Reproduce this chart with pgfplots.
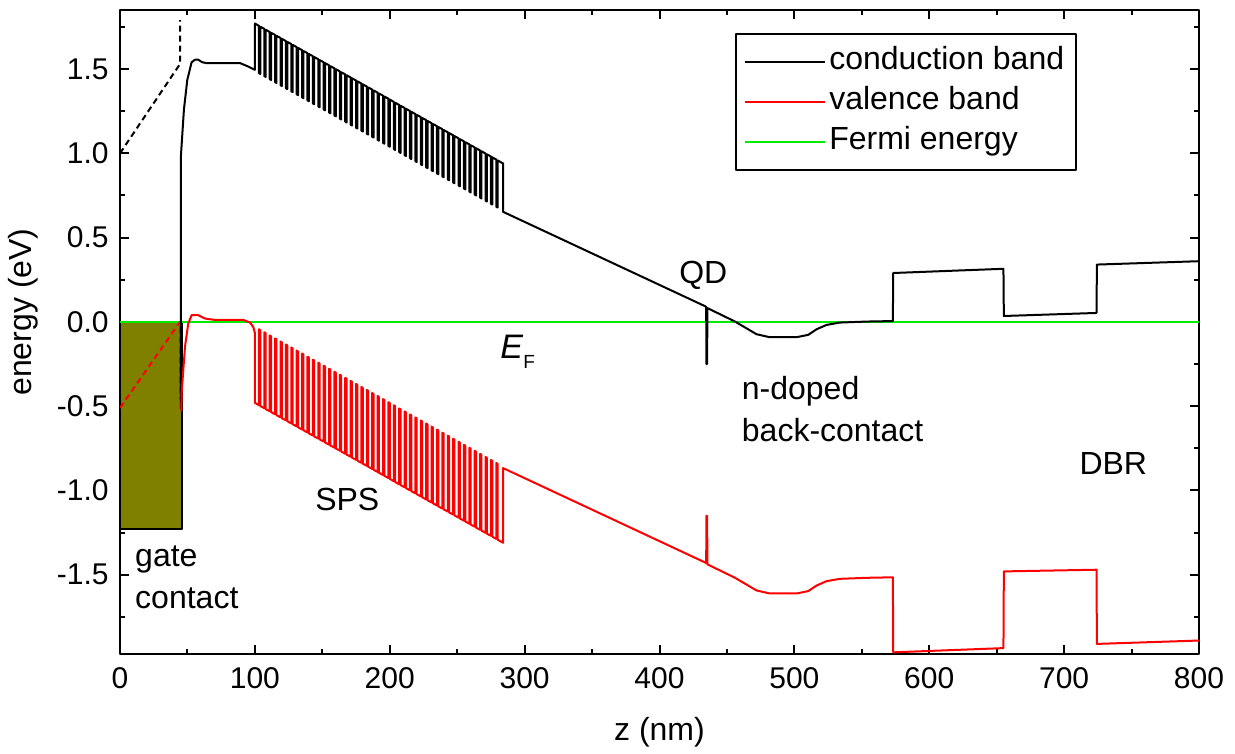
\documentclass[border=0pt]{standalone}
\usepackage{fontspec}
\setmainfont{Liberation Sans}
\usepackage{pgfplots}
\pgfplotsset{compat=1.18}
\definecolor{olivefill}{RGB}{128,128,0}
\definecolor{fermigreen}{RGB}{0,235,0}
\newcommand{\tickfont}{\fontsize{15}{17}\selectfont}
\newcommand{\labfont}{\fontsize{16}{18}\selectfont}
\begin{document}
\begin{tikzpicture}
\begin{axis}[
  scale only axis, width=539.5pt, height=322pt,
  xmin=0, xmax=800, ymin=-1.97, ymax=1.85,
  xtick={0,100,200,300,400,500,600,700,800},
  minor xtick={50,150,250,350,450,550,650,750},
  ytick={-1.5,-1.0,-0.5,0,0.5,1.0,1.5},
  minor ytick={-1.75,-1.25,-0.75,-0.25,0.25,0.75,1.25,1.75},
  tick align=inside, major tick length=4.5pt, minor tick length=2.5pt,
  every tick/.style={line width=1pt, black},
  axis line style={line width=1pt},
  /pgf/number format/assume math mode=true,
  yticklabel style={/pgf/number format/fixed, /pgf/number format/fixed zerofill, /pgf/number format/precision=1, font=\tickfont, anchor=east, inner sep=0pt, xshift=-5.5pt},
  xticklabel style={font=\tickfont, anchor=base, inner sep=0pt, yshift=-17pt},
  xlabel={z (nm)}, ylabel={energy (eV)},
  xlabel style={font=\labfont, at={(axis description cs:0.5,0)}, anchor=base, yshift=-43pt},
  ylabel style={font=\labfont, at={(axis description cs:-0.0895,0.531)}, anchor=center},
  legend style={at={(rel axis cs:0.57,0.964)}, anchor=north west, draw=black, line width=0.75pt, font=\labfont, inner xsep=4pt, inner ysep=4pt, row sep=0pt, nodes={text height=12pt, text depth=4pt, inner sep=2pt, anchor=west}},
  legend cell align=left,
  legend image code/.code={\draw[#1, line width=0.6pt] (0pt,0pt) -- (36.5pt,0pt); \path (0pt,0pt) -- (40pt,0pt);},
  line join=round,
]
\addlegendimage{black}
\addlegendentry{conduction band}
\addlegendimage{red}
\addlegendentry{valence band}
\addlegendimage{fermigreen}
\addlegendentry{Fermi energy}

% gate contact
\addplot[draw=black, line width=1pt, fill=olivefill, forget plot] coordinates {(0,0) (45.8,0) (45.8,-1.228) (0,-1.228) (0,0)};

% Fermi energy
\addplot[fermigreen, line width=1pt, forget plot] coordinates {(0,0) (800,0)};

% dashed extrapolations
\addplot[black, line width=1pt, dash pattern=on 3pt off 2pt, forget plot] coordinates {(0,1.0) (44.5,1.53) (44.5,1.79)};
\addplot[red, line width=1pt, dash pattern=on 3pt off 2pt, forget plot] coordinates {(0,-0.51) (44.5,0.0) (44.5,-0.46)};

% conduction band
\addplot[black, line width=1pt, forget plot] coordinates {
(45.2,-0.52) (45.2,0.99) (47.4,1.26) (49.9,1.436) (53.1,1.54) (55.6,1.555) (58,1.555) (61,1.54) (64.2,1.535) (89,1.535) (95,1.515) (100,1.495) (100,1.77)
(103,1.756) (103,1.476) (104,1.471) (104,1.751)
(107,1.738) (107,1.458) (108,1.453) (108,1.733)
(111,1.720) (111,1.440) (112,1.435) (112,1.715)
(115,1.702) (115,1.422) (116,1.417) (116,1.697)
(119,1.684) (119,1.404) (120,1.399) (120,1.679)
(123,1.666) (123,1.386) (124,1.381) (124,1.661)
(127,1.648) (127,1.368) (128,1.363) (128,1.643)
(131,1.630) (131,1.350) (132,1.345) (132,1.625)
(135,1.612) (135,1.332) (136,1.327) (136,1.607)
(139,1.594) (139,1.314) (140,1.309) (140,1.589)
(143,1.576) (143,1.296) (144,1.291) (144,1.571)
(147,1.558) (147,1.278) (148,1.273) (148,1.553)
(151,1.540) (151,1.260) (152,1.255) (152,1.535)
(155,1.522) (155,1.242) (156,1.237) (156,1.517)
(159,1.504) (159,1.224) (160,1.219) (160,1.499)
(163,1.486) (163,1.206) (164,1.201) (164,1.481)
(167,1.468) (167,1.188) (168,1.183) (168,1.463)
(171,1.450) (171,1.170) (172,1.165) (172,1.445)
(175,1.432) (175,1.152) (176,1.147) (176,1.427)
(179,1.414) (179,1.134) (180,1.129) (180,1.409)
(183,1.396) (183,1.116) (184,1.111) (184,1.391)
(187,1.378) (187,1.098) (188,1.093) (188,1.373)
(191,1.360) (191,1.080) (192,1.075) (192,1.355)
(195,1.342) (195,1.062) (196,1.057) (196,1.337)
(199,1.324) (199,1.044) (200,1.039) (200,1.319)
(203,1.305) (203,1.025) (204,1.020) (204,1.300)
(207,1.287) (207,1.007) (208,1.002) (208,1.282)
(211,1.269) (211,0.989) (212,0.984) (212,1.264)
(215,1.251) (215,0.971) (216,0.966) (216,1.246)
(219,1.233) (219,0.953) (220,0.948) (220,1.228)
(223,1.215) (223,0.935) (224,0.930) (224,1.210)
(227,1.197) (227,0.917) (228,0.912) (228,1.192)
(231,1.179) (231,0.899) (232,0.894) (232,1.174)
(235,1.161) (235,0.881) (236,0.876) (236,1.156)
(239,1.143) (239,0.863) (240,0.858) (240,1.138)
(243,1.125) (243,0.845) (244,0.840) (244,1.120)
(247,1.107) (247,0.827) (248,0.822) (248,1.102)
(251,1.089) (251,0.809) (252,0.804) (252,1.084)
(255,1.071) (255,0.791) (256,0.786) (256,1.066)
(259,1.053) (259,0.773) (260,0.768) (260,1.048)
(263,1.035) (263,0.755) (264,0.750) (264,1.030)
(267,1.017) (267,0.737) (268,0.732) (268,1.012)
(271,0.999) (271,0.719) (272,0.714) (272,0.994)
(275,0.981) (275,0.701) (276,0.696) (276,0.976)
(279,0.963) (279,0.683) (280,0.678) (280,0.958)
(284,0.940) (284,0.653)
(434.6,0.090) (434.8,-0.25) (435.3,-0.25) (435.5,0.082)
(456,0.002) (464.5,-0.038) (471.9,-0.073) (481.8,-0.091) (501.5,-0.091) (510.2,-0.077) (516.4,-0.044) (523.8,-0.018) (533.7,-0.004) (553.5,0.002) (573,0.005)
(573.3,0.29) (655,0.315) (655.3,0.035) (724,0.053) (724.3,0.34) (800,0.36)
};

% valence band
\addplot[red, line width=1pt, forget plot] coordinates {
(45.5,-0.53) (45.7,-0.42) (48.2,-0.146) (50.6,-0.01) (53.1,0.04) (58,0.04) (63,0.02) (70,0.012) (91.4,0.012) (96.4,-0.004) (98.8,-0.03) (100,-0.065) (100,-0.48)
(103,-0.494) (103,-0.044) (104,-0.049) (104,-0.499)
(107,-0.512) (107,-0.062) (108,-0.067) (108,-0.517)
(111,-0.530) (111,-0.080) (112,-0.085) (112,-0.535)
(115,-0.548) (115,-0.098) (116,-0.103) (116,-0.553)
(119,-0.566) (119,-0.116) (120,-0.121) (120,-0.571)
(123,-0.584) (123,-0.134) (124,-0.139) (124,-0.589)
(127,-0.602) (127,-0.152) (128,-0.157) (128,-0.607)
(131,-0.620) (131,-0.170) (132,-0.175) (132,-0.625)
(135,-0.638) (135,-0.188) (136,-0.193) (136,-0.643)
(139,-0.656) (139,-0.206) (140,-0.211) (140,-0.661)
(143,-0.674) (143,-0.224) (144,-0.229) (144,-0.679)
(147,-0.692) (147,-0.242) (148,-0.247) (148,-0.697)
(151,-0.710) (151,-0.260) (152,-0.265) (152,-0.715)
(155,-0.728) (155,-0.278) (156,-0.283) (156,-0.733)
(159,-0.746) (159,-0.296) (160,-0.301) (160,-0.751)
(163,-0.764) (163,-0.314) (164,-0.319) (164,-0.769)
(167,-0.782) (167,-0.332) (168,-0.337) (168,-0.787)
(171,-0.800) (171,-0.350) (172,-0.355) (172,-0.805)
(175,-0.818) (175,-0.368) (176,-0.373) (176,-0.823)
(179,-0.836) (179,-0.386) (180,-0.391) (180,-0.841)
(183,-0.854) (183,-0.404) (184,-0.409) (184,-0.859)
(187,-0.872) (187,-0.422) (188,-0.427) (188,-0.877)
(191,-0.890) (191,-0.440) (192,-0.445) (192,-0.895)
(195,-0.908) (195,-0.458) (196,-0.463) (196,-0.913)
(199,-0.926) (199,-0.476) (200,-0.481) (200,-0.931)
(203,-0.945) (203,-0.495) (204,-0.500) (204,-0.950)
(207,-0.963) (207,-0.513) (208,-0.518) (208,-0.968)
(211,-0.981) (211,-0.531) (212,-0.536) (212,-0.986)
(215,-0.999) (215,-0.549) (216,-0.554) (216,-1.004)
(219,-1.017) (219,-0.567) (220,-0.572) (220,-1.022)
(223,-1.035) (223,-0.585) (224,-0.590) (224,-1.040)
(227,-1.053) (227,-0.603) (228,-0.608) (228,-1.058)
(231,-1.071) (231,-0.621) (232,-0.626) (232,-1.076)
(235,-1.089) (235,-0.639) (236,-0.644) (236,-1.094)
(239,-1.107) (239,-0.657) (240,-0.662) (240,-1.112)
(243,-1.125) (243,-0.675) (244,-0.680) (244,-1.130)
(247,-1.143) (247,-0.693) (248,-0.698) (248,-1.148)
(251,-1.161) (251,-0.711) (252,-0.716) (252,-1.166)
(255,-1.179) (255,-0.729) (256,-0.734) (256,-1.184)
(259,-1.197) (259,-0.747) (260,-0.752) (260,-1.202)
(263,-1.215) (263,-0.765) (264,-0.770) (264,-1.220)
(267,-1.233) (267,-0.783) (268,-0.788) (268,-1.238)
(271,-1.251) (271,-0.801) (272,-0.806) (272,-1.256)
(275,-1.269) (275,-0.819) (276,-0.824) (276,-1.274)
(279,-1.287) (279,-0.837) (280,-0.842) (280,-1.292)
(284,-1.310) (284,-0.867)
(434.6,-1.430) (434.8,-1.15) (435.3,-1.15) (435.5,-1.438)
(456,-1.518) (464.5,-1.558) (471.9,-1.593) (481.8,-1.611) (501.5,-1.611) (510.2,-1.597) (516.4,-1.564) (523.8,-1.538) (533.7,-1.524) (553.5,-1.518) (573,-1.515)
(573.3,-1.96) (655,-1.935) (655.3,-1.48) (724,-1.47) (724.3,-1.91) (800,-1.89)
};

% annotations
\node[anchor=base west, font=\labfont, inner sep=0pt] at (axis cs:11,-1.452) {gate};
\node[anchor=base west, font=\labfont, inner sep=0pt] at (axis cs:11,-1.699) {contact};
\node[anchor=base west, font=\labfont, inner sep=0pt] at (axis cs:144.5,-1.116) {SPS};
\node[anchor=base west, font=\labfont, inner sep=0pt] at (axis cs:281.7,-0.216) {\fontsize{17}{18}\selectfont\textit{E}\raisebox{-5pt}{\fontsize{9.5}{10}\selectfont F}};
\node[anchor=base west, font=\labfont, inner sep=0pt] at (axis cs:414.4,0.23) {QD};
\node[anchor=base west, font=\labfont, inner sep=0pt] at (axis cs:460.8,-0.463) {n-doped};
\node[anchor=base west, font=\labfont, inner sep=0pt] at (axis cs:460.8,-0.71) {back-contact};
\node[anchor=base west, font=\labfont, inner sep=0pt] at (axis cs:711.1,-0.904) {DBR};
\end{axis}
\path[use as bounding box] ([xshift=-60pt,yshift=-46pt]current axis.south west) rectangle ([xshift=18pt,yshift=5pt]current axis.north east);
\end{tikzpicture}
\end{document}
